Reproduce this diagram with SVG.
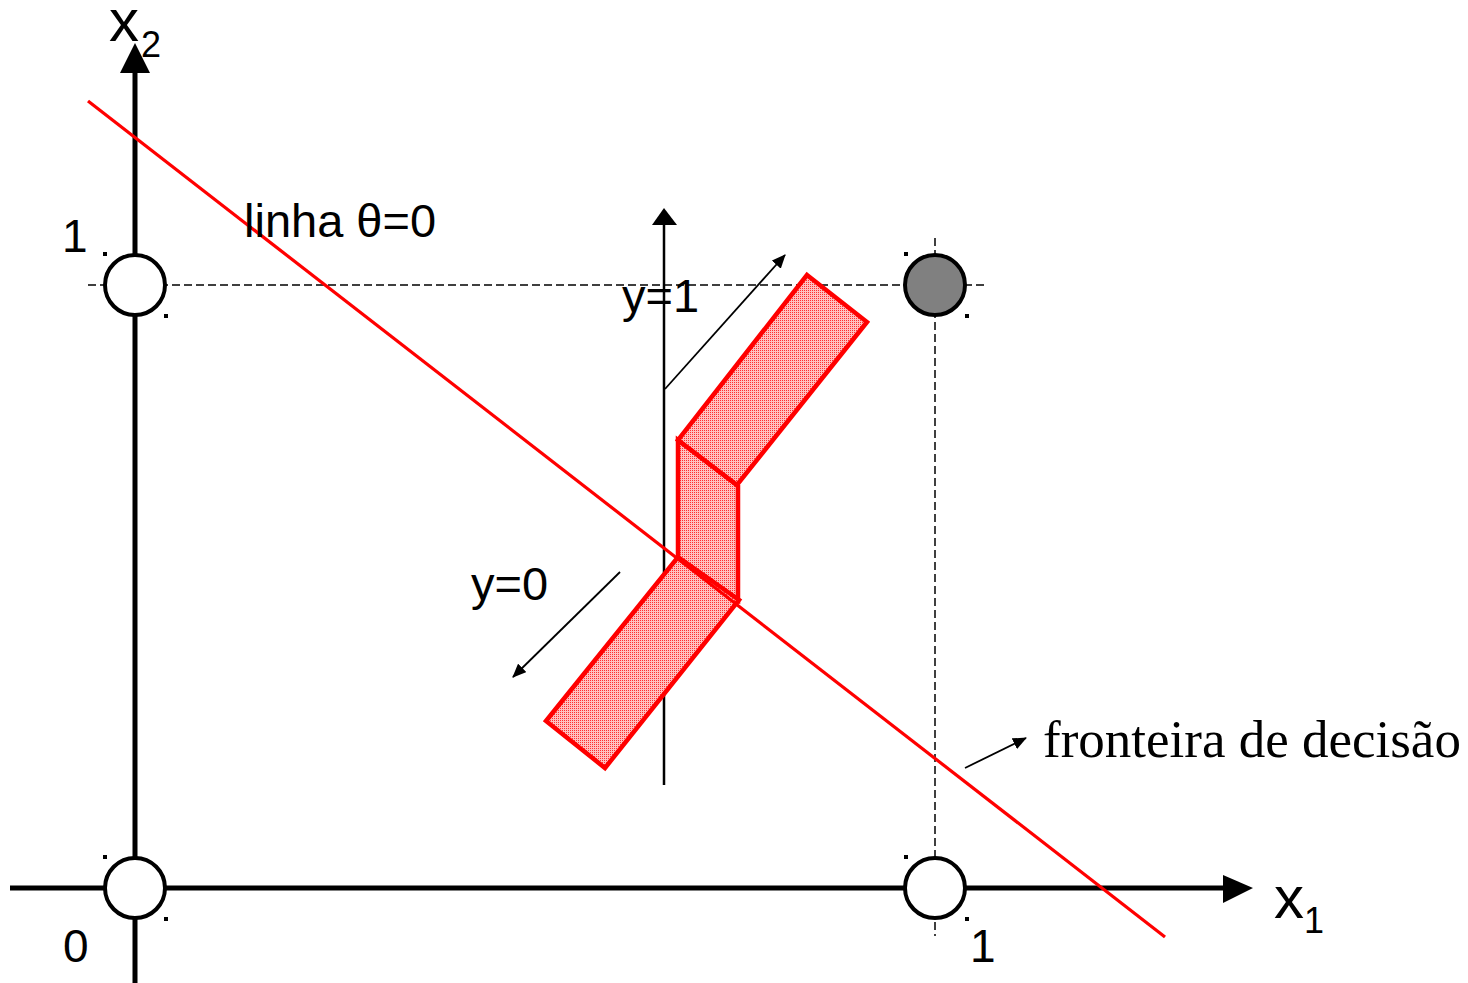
<svg xmlns="http://www.w3.org/2000/svg" width="1468" height="983" viewBox="0 0 1468 983">
<style>
.ax{stroke:#000;stroke-width:5;fill:none}
.dash{stroke:#000;stroke-width:1.5;stroke-dasharray:8 4;fill:none}
.thin{stroke:#000;stroke-width:1.8;fill:none}
.pt{stroke:#000;stroke-width:4}
.red{stroke:#ff0000;stroke-width:3.2;fill:none}
.blob{stroke:#ff0000;stroke-width:4.5;stroke-linejoin:miter;fill:url(#dots)}
.sans{font-family:"Liberation Sans",Arial,sans-serif;fill:#000}
.serif{font-family:"Liberation Serif","Times New Roman",serif;fill:#000}
.h{fill:#000}
</style>
<defs>
<pattern id="dots" width="2" height="2" patternUnits="userSpaceOnUse">
<rect width="2" height="2" fill="#ffc0c0"/>
<rect width="1" height="1" fill="#ff3030"/>
</pattern>
<marker id="ahs" markerWidth="14" markerHeight="12" refX="13" refY="6" orient="auto" markerUnits="userSpaceOnUse" viewBox="0 0 14 12">
<path d="M0,0 L14,6 L0,12 Z" fill="#000"/>
</marker>
</defs>
<g id="guides">
<line class="dash" x1="88" y1="285" x2="985" y2="285"/>
<line class="dash" x1="935" y1="238" x2="935" y2="936"/>
</g>
<g id="axes">
<line class="ax" x1="10" y1="888" x2="1225" y2="888"/>
<polygon points="1223,875 1253,888 1223,903"/>
<line class="ax" x1="135" y1="983" x2="135" y2="72"/>
<polygon points="120,73 135,43 150,73"/>
<text class="sans" x="109" y="41" font-size="60">x</text>
<text class="sans" x="141" y="57" font-size="36">2</text>
<text class="sans" x="1274" y="918" font-size="60">x</text>
<text class="sans" x="1304" y="933" font-size="36">1</text>
<text class="sans" x="63" y="962" font-size="46">0</text>
<text class="sans" x="62" y="252" font-size="46">1</text>
<text class="sans" x="970" y="962" font-size="46">1</text>
</g>
<g id="inner-axis">
<line stroke="#000" stroke-width="2.5" x1="664" y1="785" x2="664" y2="224"/>
<polygon points="652,225 664,208 677,225"/>
</g>
<g id="shapes">
<polygon class="blob" points="678,558 738,600 738,486 678,440"/>
<polygon class="blob" points="807,275 867,322 737,485 678,440"/>
<polygon class="blob" points="678,557 739,600 605,768 546,721"/>
</g>
<g id="boundary">
<line class="red" x1="88" y1="101" x2="1165" y2="937"/>
</g>
<g id="connectors">
<line class="thin" x1="665" y1="389" x2="785" y2="255" marker-end="url(#ahs)"/>
<line class="thin" x1="620" y1="572" x2="513" y2="677" marker-end="url(#ahs)"/>
<line class="thin" x1="965" y1="768" x2="1026" y2="738" marker-end="url(#ahs)"/>
</g>
<g id="p00">
<circle class="pt" cx="135" cy="888" r="30" fill="#fff"/>
<rect class="h" x="103" y="855" width="4" height="4"/>
<rect class="h" x="164" y="917" width="4" height="4"/>
</g>
<g id="p01">
<circle class="pt" cx="135" cy="285" r="30" fill="#fff"/>
<rect class="h" x="103" y="252" width="4" height="4"/>
<rect class="h" x="164" y="314" width="4" height="4"/>
</g>
<g id="p10">
<circle class="pt" cx="935" cy="888" r="30" fill="#fff"/>
<rect class="h" x="904" y="855" width="4" height="4"/>
<rect class="h" x="965" y="917" width="4" height="4"/>
</g>
<g id="p11">
<circle class="pt" cx="935" cy="285" r="30" fill="#808080"/>
<rect class="h" x="904" y="252" width="4" height="4"/>
<rect class="h" x="965" y="314" width="4" height="4"/>
</g>
<g id="labels">
<text class="sans" x="244" y="237" font-size="47">linha θ=0</text>
<text class="sans" x="622" y="312" font-size="47">y=1</text>
<text class="sans" x="471" y="600" font-size="47">y=0</text>
<text class="serif" x="1043" y="757" font-size="53">fronteira de decisão</text>
</g>
</svg>
